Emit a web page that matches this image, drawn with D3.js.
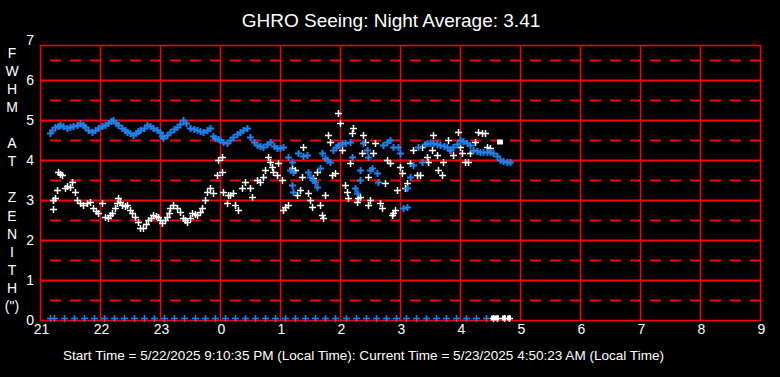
<!doctype html>
<html>
<head>
<meta charset="utf-8">
<title>GHRO Seeing</title>
<script src="https://cdn.jsdelivr.net/npm/d3@7"></script>
<style>
  body { margin: 0; background-color: black; }
  svg { display: block; }
  text { font-family: "Liberation Sans", Arial, sans-serif; fill: white; }
</style>
</head>
<body>
<svg id="chart" width="780" height="377"></svg>
<script>
// minutes after 21:00 local, FWHM in arcsec
var hourLabels = ['21', '22', '23', '0', '1', '2', '3', '4', '5', '6', '7', '8', '9'];
var yTicks = [0, 1, 2, 3, 4, 5, 6, 7];
var yTitle = ['F', 'W', 'H', 'M', '', 'A', 'T', '', 'Z', 'E', 'N', 'I', 'T', 'H', '(")'];

var whiteSeeing = [
  [13, 2.78], [13, 3.0], [15, 3.05], [17, 3.25], [18, 3.7], [20, 3.65], [22, 3.63], [25, 3.3],
  [27, 3.35], [30, 3.33], [32, 3.45], [35, 3.2], [37, 3.0], [40, 2.93], [43, 2.88], [47, 2.92],
  [50, 2.95], [53, 2.8], [56, 2.72], [58, 2.68], [62, 2.93], [65, 2.58], [68, 2.55], [70, 2.62],
  [72, 2.68], [75, 2.8], [77, 2.93], [78, 3.05], [80, 2.95], [82, 2.88], [85, 2.85], [87, 2.88],
  [90, 2.75], [92, 2.68], [95, 2.58], [98, 2.45], [100, 2.3], [103, 2.3], [106, 2.4], [108, 2.5],
  [111, 2.55], [113, 2.63], [116, 2.6], [118, 2.58], [120, 2.5], [122, 2.43], [125, 2.5], [127, 2.58],
  [129, 2.68], [130, 2.8], [133, 2.88], [137, 2.8], [140, 2.7], [143, 2.55], [145, 2.5], [147, 2.45],
  [150, 2.55], [152, 2.68], [155, 2.65], [157, 2.63], [160, 2.7], [162, 2.8], [165, 3.0], [167, 3.2],
  [170, 3.3], [173, 3.18], [177, 3.63], [178, 4.0], [182, 4.08], [182, 3.7], [183, 3.2], [188, 3.13],
  [187, 2.93], [190, 3.13], [193, 3.18], [195, 2.88], [198, 2.75], [202, 3.3], [205, 3.45], [210, 3.3],
  [212, 3.08], [217, 3.5], [220, 3.45], [223, 3.58], [225, 3.75], [228, 4.08], [230, 3.95], [232, 3.83],
  [233, 3.7], [237, 3.63], [238, 3.93], [242, 3.5], [243, 2.75], [245, 2.83], [248, 2.88], [252, 3.8],
  [255, 3.75], [257, 3.13], [260, 3.25], [262, 3.58], [263, 4.33], [268, 3.18], [270, 3.0], [272, 2.83],
  [273, 3.55], [277, 3.7], [280, 2.88], [282, 2.63], [283, 2.55], [285, 3.13], [288, 4.63], [290, 4.45],
  [292, 3.63], [295, 3.68], [298, 5.18], [300, 4.93], [302, 4.25], [305, 3.38], [307, 3.2], [308, 3.05],
  [310, 3.93], [312, 4.68], [313, 4.8], [317, 2.95], [318, 3.05], [322, 4.18], [323, 4.63], [325, 4.45],
  [328, 3.58], [328, 2.88], [320, 3.08], [330, 3.0], [333, 4.18], [335, 4.43], [340, 2.93], [342, 2.8],
  [345, 3.43], [347, 4.0], [350, 3.93], [352, 2.63], [353, 2.68], [355, 2.75], [357, 3.25], [360, 3.83],
  [362, 3.68], [365, 3.3], [367, 3.43], [370, 3.93], [373, 4.25], [377, 3.63], [380, 3.63], [382, 4.33],
  [387, 4.08], [388, 3.95], [392, 4.25], [393, 4.63], [397, 4.13], [398, 3.75], [402, 3.63], [403, 3.95],
  [408, 4.5], [410, 4.25], [413, 4.13], [418, 4.7], [420, 4.33], [422, 4.18], [425, 3.95], [428, 3.95],
  [430, 4.18], [435, 4.45], [438, 4.7], [442, 4.68], [445, 4.68], [447, 4.33], [450, 4.3]
];

var blueSeeing = [
  [10, 4.68], [12, 4.75], [15, 4.83], [18, 4.85], [20, 4.88], [23, 4.85], [27, 4.8], [30, 4.83],
  [33, 4.85], [37, 4.88], [40, 4.93], [43, 4.88], [45, 4.83], [48, 4.75], [52, 4.7], [55, 4.75],
  [58, 4.8], [62, 4.85], [65, 4.88], [68, 4.93], [71, 4.98], [73, 5.0], [76, 4.93], [78, 4.88],
  [82, 4.8], [85, 4.75], [87, 4.7], [90, 4.68], [93, 4.63], [96, 4.68], [98, 4.72], [100, 4.75],
  [104, 4.8], [107, 4.88], [110, 4.85], [113, 4.8], [117, 4.75], [120, 4.7], [122, 4.6], [123, 4.55],
  [127, 4.63], [130, 4.7], [134, 4.78], [137, 4.83], [140, 4.9], [143, 5.0], [146, 4.93], [150, 4.8],
  [154, 4.78], [157, 4.75], [160, 4.72], [163, 4.7], [167, 4.75], [170, 4.8], [173, 4.6], [175, 4.55],
  [178, 4.52], [180, 4.5], [183, 4.45], [187, 4.43], [190, 4.5], [193, 4.58], [197, 4.65], [200, 4.7],
  [203, 4.75], [207, 4.8], [210, 4.58], [214, 4.45], [217, 4.38], [220, 4.35], [223, 4.33], [227, 4.4],
  [230, 4.45], [234, 4.35], [237, 4.3], [240, 4.3], [243, 4.33], [248, 4.08], [252, 3.95], [250, 3.75],
  [253, 3.7], [252, 3.38], [253, 3.2], [258, 4.18], [263, 4.1], [267, 4.13], [268, 3.7], [270, 3.58],
  [273, 3.5], [275, 3.45], [277, 3.33], [280, 3.8], [282, 4.18], [285, 4.05], [287, 4.0], [290, 3.95],
  [293, 4.25], [296, 4.33], [298, 4.38], [302, 4.42], [305, 4.43], [310, 4.45], [312, 4.08], [320, 3.75],
  [320, 3.5], [315, 3.3], [317, 3.18], [323, 4.43], [327, 4.25], [328, 4.08], [330, 3.75], [332, 3.8],
  [337, 3.68], [338, 3.45], [343, 4.38], [347, 4.45], [350, 4.5], [353, 4.33], [358, 4.33], [360, 4.18],
  [363, 2.8], [367, 2.83], [367, 3.3], [370, 3.58], [373, 3.88], [378, 4.33], [382, 3.95], [385, 4.4],
  [387, 4.43], [390, 4.43], [393, 4.43], [397, 4.4], [400, 4.38], [404, 4.35], [407, 4.33], [410, 4.25],
  [413, 4.33], [417, 4.4], [420, 4.5], [423, 4.47], [427, 4.43], [430, 4.38], [433, 4.25], [437, 4.22],
  [440, 4.2], [443, 4.2], [447, 4.2], [450, 4.2], [453, 4.18], [457, 4.1], [460, 4.0], [463, 3.97],
  [467, 3.95], [470, 3.95]
];

var blueBase = [10, 14, 24, 34, 44, 54, 64, 74, 84, 94, 104, 114, 124, 134, 144, 155, 165, 175, 185,
  195, 205, 215, 225, 235, 245, 255, 265, 275, 285, 295, 306, 316, 326, 336, 346, 356, 366, 376, 386,
  396, 406, 416, 426, 436, 446];
var whiteBase = [453, 457, 464, 469];
var baseValue = 0.05;
var lastPoint = [460, 4.45];

var title = 'GHRO Seeing: Night Average: 3.41';
var footer = 'Start Time = 5/22/2025 9:10:35 PM (Local Time): Current Time = 5/23/2025 4:50:23 AM (Local Time)';

var svg = d3.select('#chart');
svg.append('rect').attr('width', 780).attr('height', 377).attr('fill', 'black');

var x = d3.scaleLinear().domain([0, 720]).range([40, 760]);
var y = d3.scaleLinear().domain([0, 7]).range([320, 40]);
var plotTop = 45;

var grid = svg.append('g');
// half-unit dashed lines
grid.selectAll('line.half')
    .data(d3.range(0.5, 7, 1))
    .enter().append('line')
    .attr('x1', x(10)).attr('x2', x(720))
    .attr('y1', function (d) { return y(d) + 0.5; })
    .attr('y2', function (d) { return y(d) + 0.5; })
    .attr('stroke', 'red')
    .attr('stroke-width', 2)
    .attr('stroke-dasharray', '11,9');
grid.selectAll('line.whole')
    .data(yTicks.slice(1, 7))
    .enter().append('line')
    .attr('x1', x(0)).attr('x2', x(720))
    .attr('y1', function (d) { return y(d) + 0.5; })
    .attr('y2', function (d) { return y(d) + 0.5; })
    .attr('stroke', 'red')
    .attr('stroke-width', 2);
grid.selectAll('line.hour')
    .data(d3.range(1, 12))
    .enter().append('line')
    .attr('x1', function (d) { return x(d * 60) + 0.5; })
    .attr('x2', function (d) { return x(d * 60) + 0.5; })
    .attr('y1', plotTop).attr('y2', y(0))
    .attr('stroke', 'red')
    .attr('stroke-width', 1.5);
grid.append('rect')
    .attr('x', x(0) + 0.5).attr('y', plotTop + 0.5)
    .attr('width', x(720) - x(0)).attr('height', y(0) - plotTop)
    .attr('fill', 'none')
    .attr('stroke', 'red')
    .attr('stroke-width', 1.5);

function plus(g, data, color, w) {
  g.selectAll(null)
      .data(data)
      .enter().append('path')
      .attr('d', function (d) {
        var px = Math.round(x(d[0])) + 0.5, py = Math.round(y(d[1])) + 0.5;
        return 'M' + (px - 3.5) + ',' + py + 'H' + (px + 3.5) + 'M' + px + ',' + (py - 3.5) + 'V' + (py + 3.5);
      })
      .attr('stroke', color)
      .attr('stroke-width', w)
      .attr('fill', 'none');
}

var marks = svg.append('g');
plus(marks, whiteSeeing, 'white', 1.5);
plus(marks, blueSeeing, '#1e82f0', 2);
plus(marks, blueBase.map(function (m) { return [m, baseValue]; }), '#1e82f0', 1.5);
plus(marks, whiteBase.map(function (m) { return [m, baseValue]; }), 'white', 1.5);
marks.selectAll('rect.base')
    .data(whiteBase)
    .enter().append('rect')
    .attr('x', function (d) { return x(d) - 2; })
    .attr('y', y(baseValue) - 2.5)
    .attr('width', 4).attr('height', 5)
    .attr('fill', 'white');
marks.append('rect')
    .attr('x', x(lastPoint[0]) - 3)
    .attr('y', y(lastPoint[1]) - 2.5)
    .attr('width', 6).attr('height', 5)
    .attr('fill', 'white');

// axes
var xAxis = d3.axisBottom(x)
    .tickValues(d3.range(0, 721, 60))
    .tickFormat(function (d, i) { return hourLabels[i]; })
    .tickSize(0).tickPadding(4);
var gx = svg.append('g')
    .attr('transform', 'translate(1,' + y(0) + ')')
    .call(xAxis);
gx.select('.domain').remove();
gx.selectAll('text').attr('fill', 'white').style('font-size', '14px');

var yAxis = d3.axisLeft(y)
    .tickValues(yTicks)
    .tickFormat(d3.format('d'))
    .tickSize(0).tickPadding(6);
var gy = svg.append('g')
    .attr('transform', 'translate(' + x(0) + ',0)')
    .call(yAxis);
gy.select('.domain').remove();
gy.selectAll('text').attr('fill', 'white').style('font-size', '14px');

svg.append('g').selectAll('text')
    .data(yTitle)
    .enter().append('text')
    .attr('x', 12)
    .attr('y', function (d, i) { return 53 + i * 18.07; })
    .attr('dy', '0.35em')
    .attr('text-anchor', 'middle')
    .style('font-size', '14px')
    .text(function (d) { return d; });

svg.append('text')
    .attr('x', 391).attr('y', 27)
    .attr('text-anchor', 'middle')
    .style('font-size', '19px')
    .text(title);

svg.append('text')
    .attr('x', 63).attr('y', 360)
    .attr('textLength', 601)
    .attr('lengthAdjust', 'spacingAndGlyphs')
    .style('font-family', '"Liberation Sans Narrow", "Liberation Sans", Arial, sans-serif')
    .style('font-size', '13px')
    .text(footer);
</script>
</body>
</html>
